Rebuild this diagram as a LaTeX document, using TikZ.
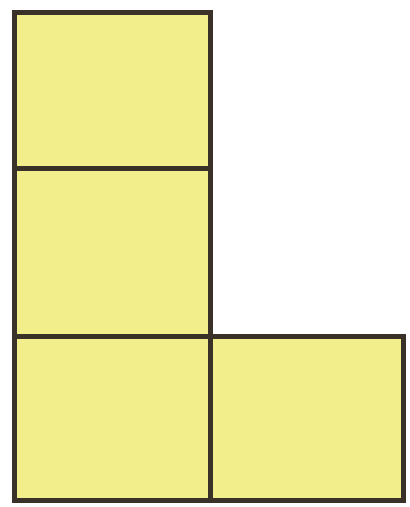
\documentclass[tikz,border=0pt]{standalone}
\definecolor{cellfill}{RGB}{243,238,140}
\definecolor{cellline}{RGB}{58,50,40}
\tikzset{cell/.style={fill=cellfill,draw=cellline,line width=5pt}}
\begin{document}
\begin{tikzpicture}[x=1pt,y=-1pt]
\useasboundingbox (0,0) rectangle (410,507);
\path[cell] (14,12) rectangle (210,168);
\path[cell] (14,168) rectangle (210,336);
\path[cell] (14,336) rectangle (210,500);
\path[cell] (210,336) rectangle (403,500);
\end{tikzpicture}
\end{document}
